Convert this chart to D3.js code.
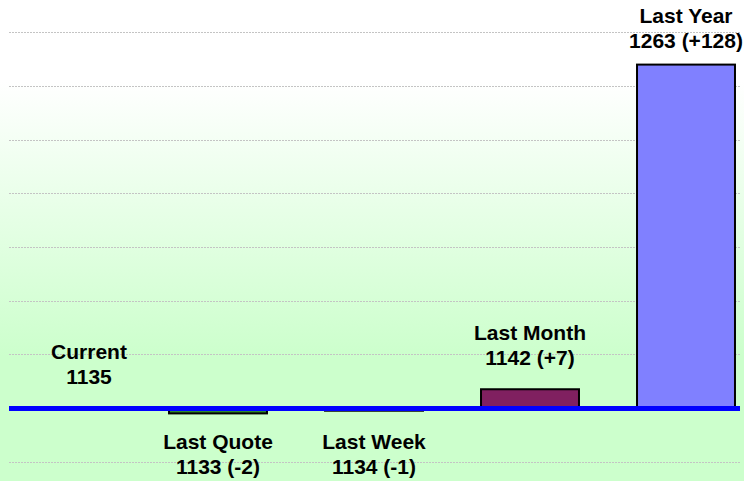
<!DOCTYPE html>
<html>
<head>
<meta charset="utf-8">
<script src="https://cdn.jsdelivr.net/npm/d3@7"></script>
<style>
  html, body { margin: 0; padding: 0; background: #fff; }
  svg { display: block; }
  text { font-family: "Liberation Sans", Arial, sans-serif; font-weight: bold; }
</style>
</head>
<body>
<svg id="chart" width="744" height="481"></svg>
<script>
const categories = ["Current", "Last Quote", "Last Week", "Last Month", "Last Year"];
const prices = [1135, 1133, 1134, 1142, 1263];
const barColors = ["#000000", "#2e8b2e", "#000080", "#802060", "#8080ff"];
const gridTicks = [-20, 0, 20, 40, 60, 80, 100, 120, 140];

const W = 744, H = 481;
const svg = d3.select("#chart");

// background gradient
const defs = svg.append("defs");
const grad = defs.append("linearGradient").attr("id", "bg")
  .attr("x1", 0).attr("y1", 0).attr("x2", 0).attr("y2", 1);
grad.append("stop").attr("offset", "0.17").attr("stop-color", "#ffffff");
grad.append("stop").attr("offset", "0.74").attr("stop-color", "#ccffcc");
svg.append("rect").attr("width", W).attr("height", H).attr("fill", "url(#bg)");

const base = prices[0];
const data = categories.map((c, i) => ({ name: c, price: prices[i], diff: prices[i] - base, color: barColors[i], i }));

const x = d3.scaleBand().domain(categories).range([-16, 764]).paddingInner(0.372).paddingOuter(0.186);
const y = d3.scaleLinear().domain([-20, 140]).range([461.7, 32.4]);
const gridLeft = 9, gridRight = 740;

// gridlines
svg.append("g").selectAll("line").data(gridTicks.filter(t => t !== 0)).join("line")
  .attr("x1", gridLeft).attr("x2", gridRight)
  .attr("y1", d => Math.round(y(d)) + 0.5).attr("y2", d => Math.round(y(d)) + 0.5)
  .attr("stroke", "#c4c4c4").attr("stroke-width", 1).attr("stroke-dasharray", "2,1");

// bars
svg.append("g").selectAll("rect").data(data.filter(d => d.diff !== 0)).join("rect")
  .attr("x", d => x(d.name))
  .attr("width", x.bandwidth())
  .attr("y", d => y(Math.max(d.diff, 0)))
  .attr("height", d => Math.abs(y(d.diff) - y(0)))
  .attr("fill", d => d.color)
  .attr("stroke", "#000").attr("stroke-width", 2);

// baseline
svg.append("line")
  .attr("x1", gridLeft).attr("x2", gridRight)
  .attr("y1", y(0) + 0.5).attr("y2", y(0) + 0.5)
  .attr("stroke", "#0000ff").attr("stroke-width", 5);

// labels
const fmtDiff = d => d.diff === 0 ? `${d.price}` : `${d.price} (${d.diff > 0 ? "+" : ""}${d.diff})`;
const lab = svg.append("g").selectAll("g").data(data).join("g")
  .attr("transform", d => {
    const cx = x(d.name) + x.bandwidth() / 2;
    const lx = Math.max(cx, gridLeft + 80);
    let vy;
    if (d.diff >= 0) vy = Math.max(y(d.diff) - 24, 48);
    else vy = y(0) + 66;
    return `translate(${lx},${vy})`;
  });
lab.append("text").attr("text-anchor", "middle").attr("y", -25)
  .attr("font-size", 21).attr("fill", "#000").text(d => d.name);
lab.append("text").attr("text-anchor", "middle").attr("y", 0)
  .attr("font-size", 21).attr("fill", "#000").text(d => fmtDiff(d));
</script>
</body>
</html>
